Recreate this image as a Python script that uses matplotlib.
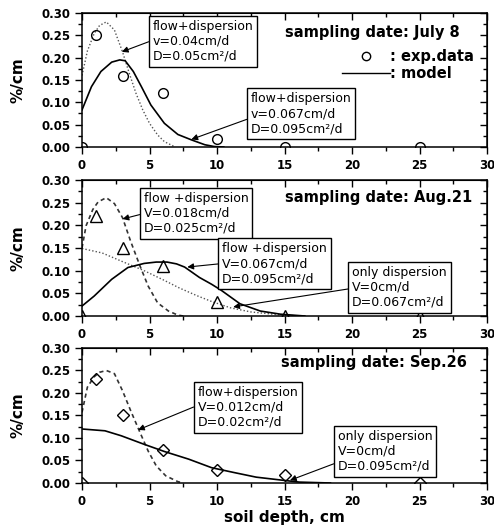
import matplotlib
matplotlib.use("Agg")
import matplotlib.pyplot as plt
from matplotlib.ticker import MultipleLocator, FormatStrFormatter, NullFormatter
from matplotlib.lines import Line2D

plt.rcParams['font.family'] = ['DejaVu Sans']

# experimental data (depth in cm, %/cm)
depth = [0, 1, 3, 6, 10, 15, 25]
july8 = [0, 0.25, 0.16, 0.12, 0.018, 0, 0]
aug21 = [0, 0.22, 0.15, 0.11, 0.03, 0, 0]
sep26 = [0, 0.23, 0.15, 0.074, 0.028, 0.018, 0]

# model curves
jul_fd1_x = [0, 0.4, 0.9, 1.3, 1.8, 2.4, 3.0, 3.5, 4.0, 4.5, 5.0, 5.6, 6.1, 6.9]
jul_fd1_y = [0.16, 0.215, 0.254, 0.272, 0.28, 0.262, 0.213, 0.165, 0.12, 0.083, 0.053, 0.027, 0.012, 0.0]
jul_fd2_x = [0, 0.7, 1.4, 2.2, 2.8, 3.2, 3.8, 4.4, 5.1, 6.1, 7.1, 8.1, 9.1, 9.8, 10.5]
jul_fd2_y = [0.083, 0.135, 0.169, 0.19, 0.195, 0.193, 0.169, 0.135, 0.094, 0.053, 0.028, 0.016, 0.005, 0.001, 0.0]

aug_fd1_x = [0, 0.3, 0.8, 1.2, 1.8, 2.4, 3.0, 3.6, 4.3, 4.9, 5.6, 6.4, 7.1, 7.5]
aug_fd1_y = [0.15, 0.199, 0.235, 0.252, 0.261, 0.248, 0.217, 0.165, 0.11, 0.066, 0.029, 0.011, 0.002, 0.0]
aug_fd2_x = [0, 0.9, 2.2, 3.4, 4.6, 5.5, 6.3, 7.0, 7.6, 8.7, 9.6, 10.3, 11.7, 13.2, 14.7, 16.5]
aug_fd2_y = [0.022, 0.044, 0.081, 0.107, 0.116, 0.119, 0.119, 0.115, 0.108, 0.085, 0.07, 0.057, 0.027, 0.011, 0.004, 0.0]
aug_d_x = [0, 1.5, 3.0, 4.6, 6.0, 7.2, 8.5, 9.6, 11.0, 12.5, 14.5, 16]
aug_d_y = [0.149, 0.139, 0.12, 0.1, 0.08, 0.062, 0.045, 0.032, 0.018, 0.009, 0.003, 0.0]

sep_fd_x = [0, 0.4, 0.9, 1.3, 1.8, 2.4, 3.0, 3.6, 4.3, 4.9, 5.5, 6.2, 7.1, 7.5]
sep_fd_y = [0.157, 0.213, 0.236, 0.246, 0.25, 0.243, 0.205, 0.161, 0.112, 0.071, 0.038, 0.016, 0.003, 0.0]
sep_d_x = [0, 1.7, 2.9, 4.6, 6.1, 7.9, 9.6, 11.3, 12.9, 14.9, 16.1, 18.4]
sep_d_y = [0.12, 0.116, 0.105, 0.086, 0.07, 0.053, 0.034, 0.023, 0.013, 0.006, 0.002, 0.0]

dotted = (0, (1, 1.5))
dashed = (0, (2.5, 2))

fig = plt.figure(figsize=(4.94, 5.32), dpi=100)
ax1 = fig.add_axes([0.166, 0.7237, 0.820, 0.2519])
ax2 = fig.add_axes([0.166, 0.4060, 0.820, 0.2556])
ax3 = fig.add_axes([0.166, 0.0921, 0.820, 0.2538])

for ax in (ax1, ax2, ax3):
    ax.set_xlim(0, 30)
    ax.set_ylim(0, 0.30)
    ax.xaxis.set_major_locator(MultipleLocator(5))
    ax.xaxis.set_minor_locator(MultipleLocator(2.5))
    ax.yaxis.set_major_locator(MultipleLocator(0.05))
    ax.yaxis.set_minor_locator(MultipleLocator(0.025))
    ax.yaxis.set_major_formatter(FormatStrFormatter('%.2f'))
    ax.tick_params(which='both', direction='out', labelsize=8.5, width=1)
    ax.tick_params(which='major', length=5)
    ax.tick_params(which='minor', length=3)
    for lab in ax.get_xticklabels() + ax.get_yticklabels():
        lab.set_fontweight('bold')
    for s in ax.spines.values():
        s.set_linewidth(1.1)
    ax.set_ylabel('%/cm', fontsize=11, fontweight='bold')
    ax.yaxis.set_label_coords(-0.14, 0.5)
    # top and right ticks point inward
    top = ax.secondary_xaxis('top')
    top.xaxis.set_major_locator(MultipleLocator(5))
    top.xaxis.set_minor_locator(MultipleLocator(2.5))
    top.xaxis.set_major_formatter(NullFormatter())
    top.tick_params(which='both', direction='in', width=1)
    top.tick_params(which='major', length=5)
    top.tick_params(which='minor', length=3)
    right = ax.secondary_yaxis('right')
    right.yaxis.set_major_locator(MultipleLocator(0.05))
    right.yaxis.set_minor_locator(MultipleLocator(0.025))
    right.yaxis.set_major_formatter(NullFormatter())
    right.tick_params(which='both', direction='in', width=1)
    right.tick_params(which='major', length=5)
    right.tick_params(which='minor', length=3)

box = dict(boxstyle='square,pad=0.3', fc='white', ec='black', lw=1)
arrow = dict(arrowstyle='-|>', color='black', lw=0.8, mutation_scale=9, shrinkA=0, shrinkB=0)


def note(ax, txt, xy, xytext, rel=0.5):
    ap = dict(arrow, relpos=(0, rel))
    ax.annotate(txt, xy=xy, xycoords='data', xytext=xytext, textcoords='axes fraction',
                ha='left', va='top', fontsize=9, bbox=box, arrowprops=ap, zorder=5)


# July 8
ax1.plot(jul_fd1_x, jul_fd1_y, color='#555555', lw=1, ls=dotted)
ax1.plot(jul_fd2_x, jul_fd2_y, color='black', lw=1.2)
ax1.plot(depth, july8, 'o', mfc='none', mec='black', ms=7, mew=1)
note(ax1, 'flow+dispersion\nv=0.04cm/d\nD=0.05cm²/d', (2.95, 0.213), (0.175, 0.948), 0.53)
note(ax1, 'flow+dispersion\nv=0.067cm/d\nD=0.095cm²/d', (8.1, 0.017), (0.417, 0.410), 0.4)
ax1.text(0.933, 0.858, 'sampling date: July 8', transform=ax1.transAxes, ha='right', va='center',
         fontsize=10.5, fontweight='bold')
handles = [Line2D([], [], ls='none', marker='o', mfc='none', mec='black', ms=6),
           Line2D([], [], color='black', lw=1)]
ax1.legend(handles, [': exp.data', ': model'], loc='upper left', bbox_to_anchor=(0.642, 0.73),
           frameon=False, handlelength=3.3, handletextpad=0, borderpad=0, borderaxespad=0,
           labelspacing=0.15, prop=dict(size=10.5, weight='bold'))

# Aug.21
ax2.plot(aug_fd1_x, aug_fd1_y, color='#333333', lw=1.2, ls=dashed)
ax2.plot(aug_d_x, aug_d_y, color='#555555', lw=1, ls=dotted)
ax2.plot(aug_fd2_x, aug_fd2_y, color='black', lw=1.2)
ax2.plot(depth, aug21, '^', mfc='none', mec='black', ms=8, mew=1)
note(ax2, 'flow +dispersion\nV=0.018cm/d\nD=0.025cm²/d', (3.0, 0.214), (0.153, 0.912))
note(ax2, 'flow +dispersion\nV=0.067cm/d\nD=0.095cm²/d', (7.8, 0.108), (0.346, 0.544))
note(ax2, 'only dispersion\nV=0cm/d\nD=0.067cm²/d', (11.2, 0.02), (0.667, 0.368), 0.48)
ax2.text(0.963, 0.875, 'sampling date: Aug.21', transform=ax2.transAxes, ha='right', va='center',
         fontsize=10.5, fontweight='bold')

# Sep.26
ax3.plot(sep_fd_x, sep_fd_y, color='#333333', lw=1.2, ls=dashed)
ax3.plot(sep_d_x, sep_d_y, color='black', lw=1.2)
ax3.plot(depth, sep26, 'D', mfc='none', mec='black', ms=6.5, mew=1)
note(ax3, 'flow+dispersion\nV=0.012cm/d\nD=0.02cm²/d', (4.15, 0.118), (0.286, 0.719), 0.55)
note(ax3, 'only dispersion\nV=0cm/d\nD=0.095cm²/d', (15.4, 0.006), (0.632, 0.393), 0.25)
ax3.text(0.951, 0.896, 'sampling date: Sep.26', transform=ax3.transAxes, ha='right', va='center',
         fontsize=10.5, fontweight='bold')
ax3.set_xlabel('soil depth, cm', fontsize=11, fontweight='bold')
ax3.xaxis.set_label_coords(0.5, -0.2)

fig.savefig('out.png', dpi=100)
